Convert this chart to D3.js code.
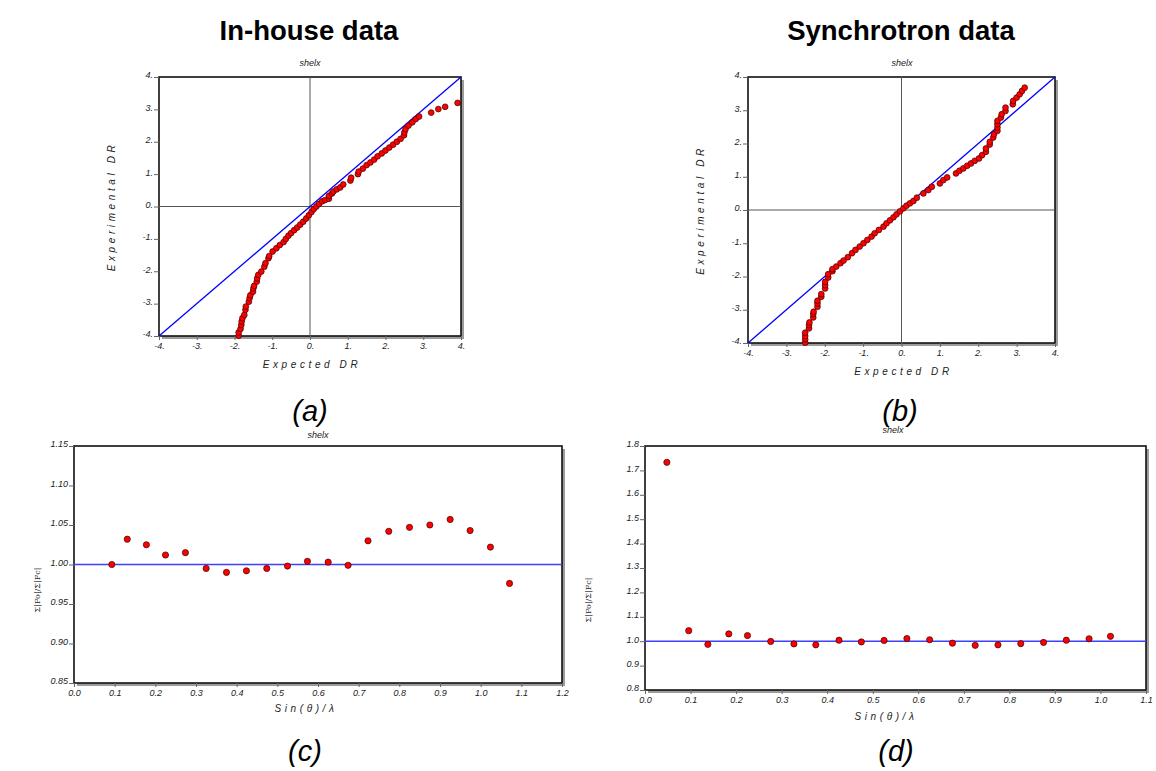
<!DOCTYPE html>
<html lang="en">
<head>
<meta charset="utf-8">
<title>shelx plots</title>
<script src="https://d3js.org/d3.v7.min.js"></script>
<style>
  body { margin: 0; background: #fff; }
  svg { display: block; }
  .title { font-family: "Liberation Sans", Arial, sans-serif; font-weight: bold; font-size: 27.5px; }
  .cap { font-family: "Liberation Sans", Arial, sans-serif; font-style: italic; font-size: 29px; }
  .tick { font-family: "Liberation Sans", Arial, sans-serif; font-style: italic; font-size: 9px; fill: #222; }
  .lab { font-family: "Liberation Sans", Arial, sans-serif; font-style: italic; font-size: 10px; letter-spacing: 3.6px; fill: #222; }
  .shelx { font-family: "Liberation Sans", Arial, sans-serif; font-style: italic; font-size: 9px; fill: #222; }
  .sig { font-family: "DejaVu Serif", serif; font-size: 8px; fill: #222; }
</style>
</head>
<body>
<svg width="1156" height="771"></svg>
<script>
// (a) in-house normal probability plot: expected DR vs experimental DR
const inHouseExpected = [-1.89,-1.89,-1.84,-1.82,-1.81,-1.79,-1.74,-1.71,-1.70,-1.62,-1.60,-1.58,-1.51,-1.50,-1.48,-1.41,-1.40,-1.37,-1.29,-1.21,-1.18,-1.10,-1.08,-0.99,-0.89,-0.80,-0.70,-0.64,-0.57,-0.50,-0.42,-0.34,-0.26,-0.18,-0.10,-0.03,0.04,0.10,0.17,0.24,0.32,0.40,0.50,0.50,0.58,0.62,0.71,0.80,0.88,1.07,1.09,1.27,1.29,1.40,1.50,1.60,1.70,1.79,1.90,2.00,2.10,2.20,2.30,2.40,2.49,2.50,2.53,2.61,2.71,2.80,2.89,3.21,3.40,3.58,3.91];
const inHouseExperimental = [-3.99,-3.89,-3.78,-3.66,-3.55,-3.45,-3.35,-3.19,-3.09,-2.94,-2.83,-2.74,-2.63,-2.53,-2.45,-2.32,-2.22,-2.11,-2.01,-1.86,-1.75,-1.60,-1.53,-1.39,-1.29,-1.19,-1.10,-1.00,-0.90,-0.82,-0.73,-0.65,-0.56,-0.47,-0.37,-0.27,-0.17,-0.08,0.00,0.08,0.16,0.20,0.24,0.33,0.40,0.46,0.53,0.59,0.68,0.80,0.89,1.00,1.08,1.17,1.28,1.36,1.45,1.55,1.64,1.73,1.82,1.91,2.00,2.09,2.20,2.29,2.39,2.50,2.60,2.70,2.78,2.90,3.01,3.08,3.20];

// (b) synchrotron normal probability plot
const synchExpected = [-2.51,-2.51,-2.51,-2.51,-2.41,-2.41,-2.40,-2.30,-2.30,-2.29,-2.19,-2.19,-2.19,-2.09,-2.09,-1.99,-1.99,-1.99,-1.91,-1.91,-1.80,-1.80,-1.70,-1.59,-1.51,-1.40,-1.29,-1.20,-1.09,-0.99,-0.89,-0.78,-0.70,-0.59,-0.47,-0.39,-0.30,-0.21,-0.13,-0.04,0.05,0.13,0.22,0.31,0.40,0.57,0.70,0.79,1.00,1.09,1.19,1.42,1.51,1.61,1.71,1.81,1.91,2.02,2.10,2.20,2.20,2.30,2.30,2.39,2.41,2.50,2.50,2.50,2.50,2.59,2.61,2.71,2.71,2.90,2.91,3.00,3.08,3.14,3.21];
const synchExperimental = [-3.99,-3.89,-3.79,-3.69,-3.56,-3.46,-3.38,-3.23,-3.13,-3.06,-2.91,-2.81,-2.73,-2.61,-2.53,-2.36,-2.26,-2.16,-2.03,-1.93,-1.84,-1.78,-1.70,-1.60,-1.52,-1.42,-1.30,-1.20,-1.10,-1.00,-0.90,-0.80,-0.70,-0.60,-0.50,-0.40,-0.31,-0.22,-0.13,-0.04,0.05,0.13,0.20,0.27,0.37,0.50,0.60,0.70,0.80,0.90,0.98,1.10,1.18,1.25,1.33,1.40,1.48,1.55,1.65,1.75,1.85,1.97,2.05,2.18,2.28,2.38,2.48,2.58,2.68,2.78,2.88,2.98,3.08,3.18,3.28,3.38,3.48,3.58,3.68];

// (c) in-house sum|Fo| / sum|Fc| against sin(theta)/lambda
const inHouseSin = [0.093,0.131,0.178,0.225,0.274,0.325,0.375,0.424,0.474,0.525,0.574,0.625,0.674,0.723,0.774,0.825,0.875,0.925,0.974,1.024,1.071];
const inHouseRatio = [1.000,1.032,1.025,1.012,1.015,0.995,0.990,0.992,0.995,0.998,1.004,1.003,0.999,1.030,1.042,1.047,1.050,1.057,1.043,1.022,0.976];

// (d) synchrotron sum|Fo| / sum|Fc|
const synchSin = [0.048,0.096,0.138,0.184,0.225,0.276,0.327,0.375,0.426,0.475,0.525,0.575,0.625,0.675,0.725,0.775,0.825,0.875,0.925,0.975,1.022];
const synchRatio = [1.733,1.043,0.987,1.030,1.023,0.999,0.989,0.985,1.004,0.997,1.003,1.011,1.006,0.992,0.983,0.985,0.990,0.995,1.004,1.010,1.020];

// tick labels
const drTicks = [-4,-3,-2,-1,0,1,2,3,4];
const cYTicks = [0.85,0.90,0.95,1.00,1.05,1.10,1.15];
const cXTicks = [0,0.1,0.2,0.3,0.4,0.5,0.6,0.7,0.8,0.9,1.0,1.1,1.2];
const dYTicks = [0.8,0.9,1.0,1.1,1.2,1.3,1.4,1.5,1.6,1.7,1.8];
const dXTicks = [0,0.1,0.2,0.3,0.4,0.5,0.6,0.7,0.8,0.9,1.0,1.1];

const svg = d3.select("svg");

function drawPanel(p) {
  const x = d3.scaleLinear().domain(p.xDomain).range([p.x0, p.x1]);
  const y = d3.scaleLinear().domain(p.yDomain).range([p.y1, p.y0]);
  const g = svg.append("g");
  const w = p.x1 - p.x0, h = p.y1 - p.y0;

  // grey drop shadow then the frame
  g.append("rect").attr("x", p.x0 + 3).attr("y", p.y0 + 3).attr("width", w).attr("height", h).attr("fill", "#9c9c9c");
  g.append("rect").attr("x", p.x0).attr("y", p.y0).attr("width", w).attr("height", h)
    .attr("fill", "#fff").attr("stroke", "#111").attr("stroke-width", 1.6);

  const yAxis = d3.axisLeft(y).tickValues(p.yTicks).tickFormat(p.yFmt).tickSize(5).tickPadding(1);
  const ya = g.append("g").attr("transform", "translate(" + p.x0 + ",0)").call(yAxis)
    .attr("font-family", null).attr("font-size", null);
  ya.select(".domain").remove();
  ya.selectAll("line").attr("stroke", "#666");
  ya.selectAll("text").attr("class", "tick").attr("dy", "0.1em");

  const xAxis = d3.axisBottom(x).tickValues(p.xTicks).tickFormat(p.xFmt).tickSize(4).tickPadding(3);
  const xa = g.append("g").attr("transform", "translate(0," + p.y1 + ")").call(xAxis)
    .attr("font-family", null).attr("font-size", null);
  xa.select(".domain").remove();
  xa.selectAll("line").attr("stroke", "#666");
  xa.selectAll("text").attr("class", "tick");

  svg.append("text").attr("class", "shelx").attr("x", p.shelx[0]).attr("y", p.shelx[1])
    .attr("text-anchor", "middle").text("shelx");
  return { g, x, y };
}

function dots(panel, xs, ys, r) {
  panel.g.append("g").selectAll("circle")
    .data(xs.map((d, i) => [d, ys[i]]))
    .enter().append("circle")
    .attr("cx", d => panel.x(d[0]))
    .attr("cy", d => panel.y(d[1]))
    .attr("r", r)
    .attr("fill", "#ff0000")
    .attr("stroke", "#3a0000")
    .attr("stroke-width", 0.7);
}

const drFmt = d => String(d) + ".";

// ---- (a) and (b) normal probability plots
function drPanel(p, xs, ys) {
  const pn = drawPanel(Object.assign({
    xDomain: [-4, 4], yDomain: [-4, 4], xTicks: drTicks, yTicks: drTicks, xFmt: drFmt, yFmt: drFmt
  }, p));
  pn.g.append("line").attr("x1", pn.x(0)).attr("x2", pn.x(0)).attr("y1", p.y0).attr("y2", p.y1).attr("stroke", "#555").attr("stroke-width", 1);
  pn.g.append("line").attr("x1", p.x0).attr("x2", p.x1).attr("y1", pn.y(0)).attr("y2", pn.y(0)).attr("stroke", "#555").attr("stroke-width", 1);
  pn.g.append("line").attr("x1", pn.x(-4)).attr("y1", pn.y(-4)).attr("x2", pn.x(4)).attr("y2", pn.y(4))
    .attr("stroke", "#0000ff").attr("stroke-width", 1.3);
  dots(pn, xs, ys, 2.9);

  svg.append("text").attr("class", "lab").attr("x", (p.x0 + p.x1) / 2 + 2).attr("y", p.y1 + 32)
    .attr("text-anchor", "middle").text("Expected DR");
  svg.append("text").attr("class", "lab").attr("text-anchor", "middle")
    .attr("transform", "translate(" + (p.x0 - 44) + "," + ((p.y0 + p.y1) / 2) + ") rotate(-90)")
    .text("Experimental DR");
}

drPanel({ x0: 159, x1: 461, y0: 77, y1: 336, shelx: [310, 66] }, inHouseExpected, inHouseExperimental);
drPanel({ x0: 748, x1: 1055, y0: 77, y1: 343, shelx: [902, 66] }, synchExpected, synchExperimental);

// ---- (c) and (d) ratio plots
function ratioPanel(p, xs, ys) {
  const pn = drawPanel(p);
  pn.g.append("line").attr("x1", p.x0).attr("x2", p.x1).attr("y1", pn.y(1)).attr("y2", pn.y(1))
    .attr("stroke", "#3f3fff").attr("stroke-width", 1.5);
  dots(pn, xs, ys, 3.1);
  svg.append("text").attr("class", "lab").attr("x", p.xlab[0]).attr("y", p.xlab[1])
    .attr("text-anchor", "middle").text("Sin(\u03b8)/\u03bb");
  svg.append("text").attr("class", "sig").attr("text-anchor", "middle")
    .attr("transform", "translate(" + p.ylab[0] + "," + p.ylab[1] + ") rotate(-90)")
    .text("\u03a3|Fo|/\u03a3|Fc|");
}

ratioPanel({
  x0: 74, x1: 562, y0: 446, y1: 683, xDomain: [0, 1.2], yDomain: [0.85, 1.15],
  xTicks: cXTicks, yTicks: cYTicks, xFmt: d3.format(".1f"), yFmt: d3.format(".2f"),
  shelx: [318, 438], xlab: [306, 712], ylab: [40, 590]
}, inHouseSin, inHouseRatio);

ratioPanel({
  x0: 645, x1: 1146, y0: 446, y1: 690, xDomain: [0, 1.1], yDomain: [0.8, 1.8],
  xTicks: dXTicks, yTicks: dYTicks, xFmt: d3.format(".1f"), yFmt: d3.format(".1f"),
  shelx: [893, 433], xlab: [886, 720], ylab: [591, 600]
}, synchSin, synchRatio);

// ---- titles and captions
svg.append("text").attr("class", "title").attr("x", 309).attr("y", 40).attr("text-anchor", "middle").text("In-house data");
svg.append("text").attr("class", "title").attr("x", 901).attr("y", 40).attr("text-anchor", "middle").text("Synchrotron data");
svg.append("text").attr("class", "cap").attr("x", 310).attr("y", 421).attr("text-anchor", "middle").text("(a)");
svg.append("text").attr("class", "cap").attr("x", 900).attr("y", 421).attr("text-anchor", "middle").text("(b)");
svg.append("text").attr("class", "cap").attr("x", 305).attr("y", 761).attr("text-anchor", "middle").text("(c)");
svg.append("text").attr("class", "cap").attr("x", 896).attr("y", 761).attr("text-anchor", "middle").text("(d)");
</script>
</body>
</html>
